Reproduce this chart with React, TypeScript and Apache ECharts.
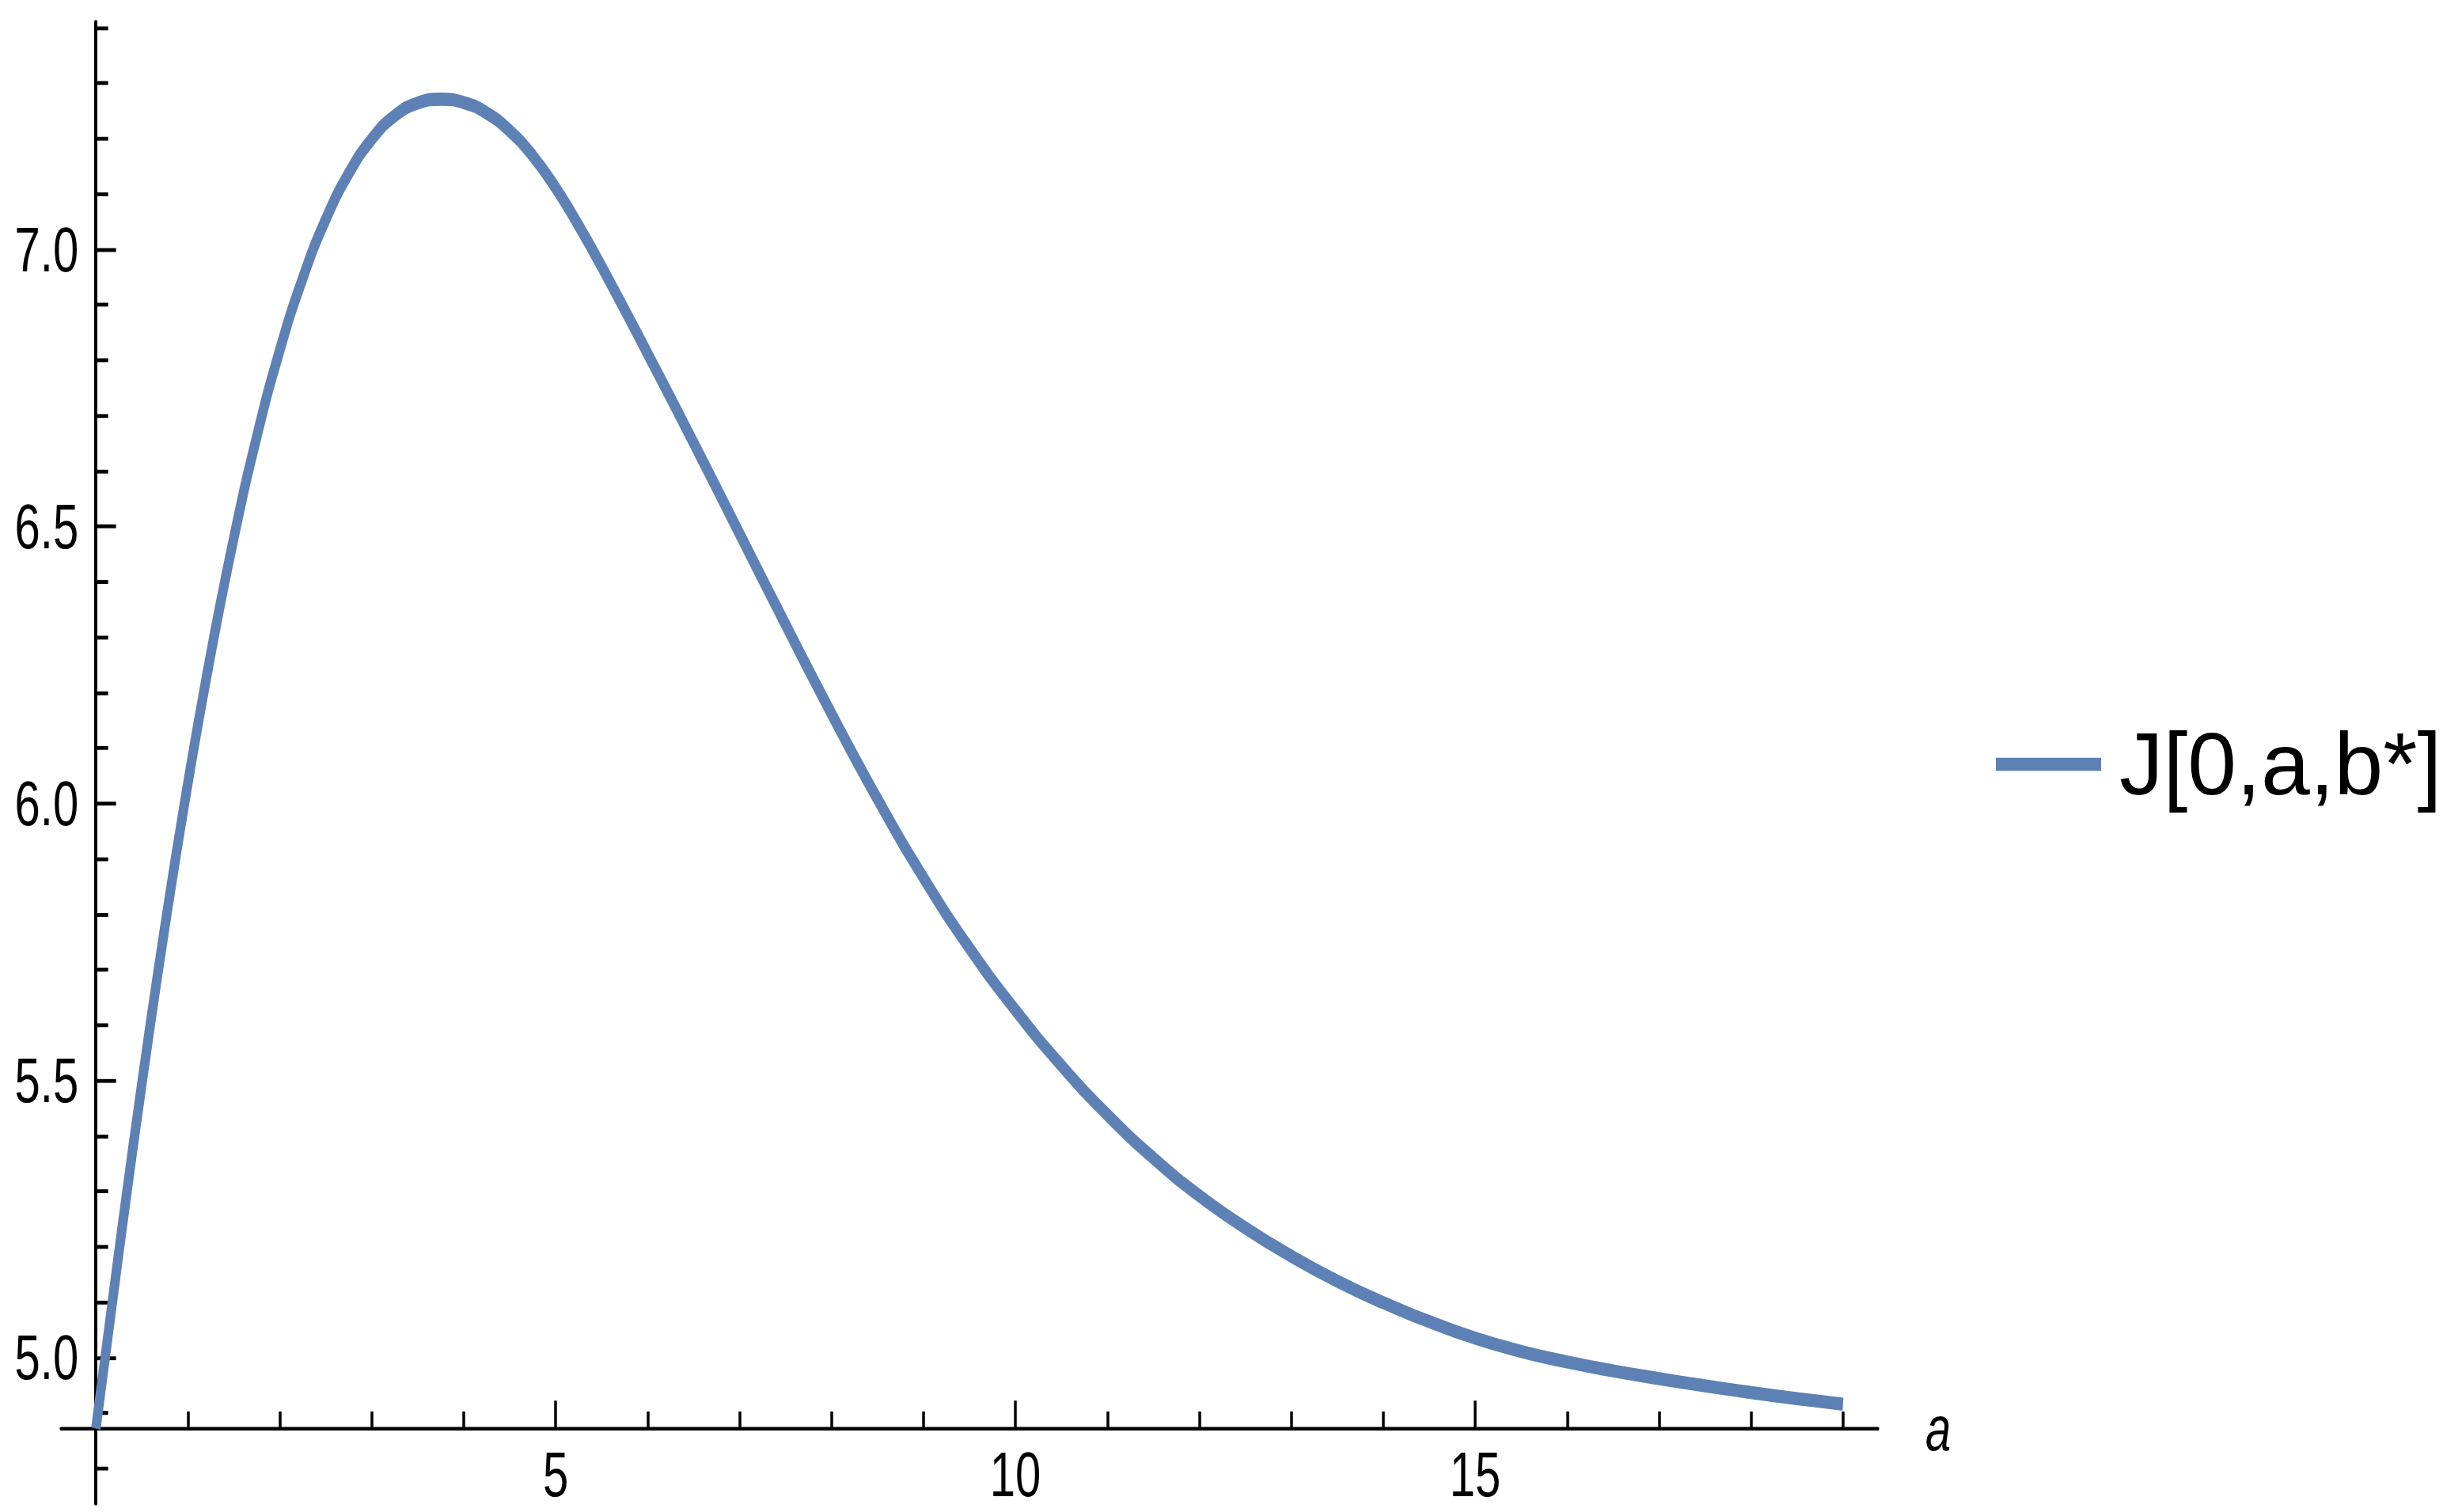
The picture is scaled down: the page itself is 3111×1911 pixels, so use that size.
import React, { useEffect, useRef } from "react";
import * as echarts from "echarts";

// ---- data ----
const aValues = [
  0, 0.25, 0.5, 0.75, 1.0, 1.25, 1.5, 1.75, 2.0, 2.25, 2.5, 2.75, 3.0, 3.25, 3.5, 3.75,
  4.0, 4.25, 4.5, 4.75, 5.0, 5.25, 5.5, 6.0, 6.5, 7.0, 7.5, 8.0, 8.5, 9.0, 9.5, 10.0,
  10.5, 11.0, 11.5, 12.0, 12.5, 13.0, 13.5, 14.0, 14.5, 15.0, 15.5, 16.0, 16.5, 17.0,
  17.5, 18.0, 18.5, 19.0,
];
const jValues = [
  4.872, 5.19, 5.494, 5.777, 6.036, 6.27, 6.479, 6.662, 6.818, 6.948, 7.054, 7.137, 7.199,
  7.241, 7.264, 7.271, 7.265, 7.246, 7.214, 7.169, 7.111, 7.043, 6.969, 6.812, 6.651,
  6.487, 6.323, 6.162, 6.008, 5.866, 5.739, 5.627, 5.527, 5.438, 5.36, 5.292, 5.234,
  5.183, 5.138, 5.099, 5.065, 5.035, 5.011, 4.992, 4.976, 4.962, 4.949, 4.937, 4.926,
  4.916,
];
const xMajorTicks = [5, 10, 15];
const xMinorTicks = [1, 2, 3, 4, 6, 7, 8, 9, 11, 12, 13, 14, 16, 17, 18, 19];
const yMajorTicks = [5.0, 5.5, 6.0, 6.5, 7.0];
const yMinorTicks = [
  4.8, 4.9, 5.1, 5.2, 5.3, 5.4, 5.6, 5.7, 5.8, 5.9, 6.1, 6.2, 6.3, 6.4, 6.6, 6.7, 6.8, 6.9,
  7.1, 7.2, 7.3, 7.4,
];
const xRange = [-0.38, 19.38];
const yRange = [4.737, 7.41];
const axisCrossY = 4.872;
const seriesName = "J[0,a,b*]";
const xAxisName = "a";

// ---- layout ----
const W = 3111;
const H = 1911;
const K = 1.38; // vertical stretch of the original picture
const CH = H / K;
const FONT = "'Liberation Sans', Arial, Helvetica, sans-serif";
const CURVE = "#5E81B5";

export default function App() {
  const ref = useRef<HTMLDivElement>(null);

  useEffect(() => {
    const el = ref.current;
    if (!el) return;
    const chart = echarts.init(el, null, { renderer: "svg" });

    const gridLeft = 77;
    const gridW = 2296;
    const gridTop = 28 / K;
    const gridH = 1872 / K;
    const xOffset = -((axisCrossY - yRange[0]) / (yRange[1] - yRange[0])) * gridH;
    const yOffset = -((0 - xRange[0]) / (xRange[1] - xRange[0])) * gridW;

    const tickLine = { color: "#000", width: 3.5 };
    const labelStyle = { fontSize: 58, color: "#000", fontFamily: FONT };

    const legendCY = 966 / K;
    const legendLineH = 12;

    chart.setOption({
      animation: false,
      backgroundColor: "#fff",
      grid: { left: gridLeft, top: gridTop, width: gridW, height: gridH, containLabel: false },
      graphic: [
        {
          type: "group",
          silent: true,
          children: [
            {
              type: "rect",
              shape: { x: 2522, y: legendCY - legendLineH / 2, width: 133, height: legendLineH },
              style: { fill: CURVE },
            },
            {
              type: "text",
              x: 2678,
              y: legendCY,
              scaleX: K,
              style: {
                text: seriesName,
                fontSize: 111 / K,
                fontFamily: FONT,
                fill: "#000",
                align: "left",
                verticalAlign: "middle",
              },
            },
          ],
        },
      ],
      xAxis: [
        {
          type: "value",
          min: xRange[0],
          max: xRange[1],
          position: "bottom",
          offset: xOffset,
          axisLine: { show: true, onZero: false, lineStyle: { color: "#000", width: 3.2 } },
          axisTick: { show: true, inside: true, length: 25.5, lineStyle: tickLine, customValues: xMajorTicks },
          axisLabel: {
            show: true,
            ...labelStyle,
            lineHeight: 44,
            margin: 20,
            customValues: xMajorTicks,
            formatter: (v: number) => String(v),
          },
          splitLine: { show: false },
          name: xAxisName,
          nameLocation: "end",
          nameGap: 60,
          nameTextStyle: { fontSize: 58, color: "#000", fontFamily: FONT, fontStyle: "italic", align: "left", verticalAlign: "middle" },
        },
        {
          type: "value",
          min: xRange[0],
          max: xRange[1],
          position: "bottom",
          offset: xOffset,
          axisLine: { show: false, onZero: false },
          axisTick: { show: true, inside: true, length: 15.5, lineStyle: tickLine, customValues: xMinorTicks },
          axisLabel: { show: false },
          splitLine: { show: false },
        },
      ],
      yAxis: [
        {
          type: "value",
          min: yRange[0],
          max: yRange[1],
          position: "left",
          offset: yOffset,
          axisLine: { show: true, onZero: false, lineStyle: { color: "#000", width: 4 } },
          axisTick: { show: true, inside: true, length: 25.5, lineStyle: tickLine, customValues: yMajorTicks },
          axisLabel: { show: true, ...labelStyle, margin: 22, customValues: yMajorTicks, formatter: (v: number) => v.toFixed(1) },
          splitLine: { show: false },
        },
        {
          type: "value",
          min: yRange[0],
          max: yRange[1],
          position: "left",
          offset: yOffset,
          axisLine: { show: false, onZero: false },
          axisTick: { show: true, inside: true, length: 15.5, lineStyle: tickLine, customValues: yMinorTicks },
          axisLabel: { show: false },
          splitLine: { show: false },
        },
      ],
      series: [
        {
          type: "line",
          name: seriesName,
          xAxisIndex: 0,
          yAxisIndex: 0,
          data: aValues.map((a, i) => [a, jValues[i]]),
          showSymbol: false,
          symbol: "none",
          smooth: true,
          clip: false,
          lineStyle: { color: CURVE, width: 12 },
          itemStyle: { color: CURVE },
        },
      ],
    });

    return () => {
      chart.dispose();
    };
  }, []);

  return (
    <div
      ref={ref}
      style={{
        position: "absolute",
        left: 0,
        top: 0,
        width: W,
        height: CH,
        transform: `scaleY(${K})`,
        transformOrigin: "0 0",
        background: "#fff",
      }}
    />
  );
}
